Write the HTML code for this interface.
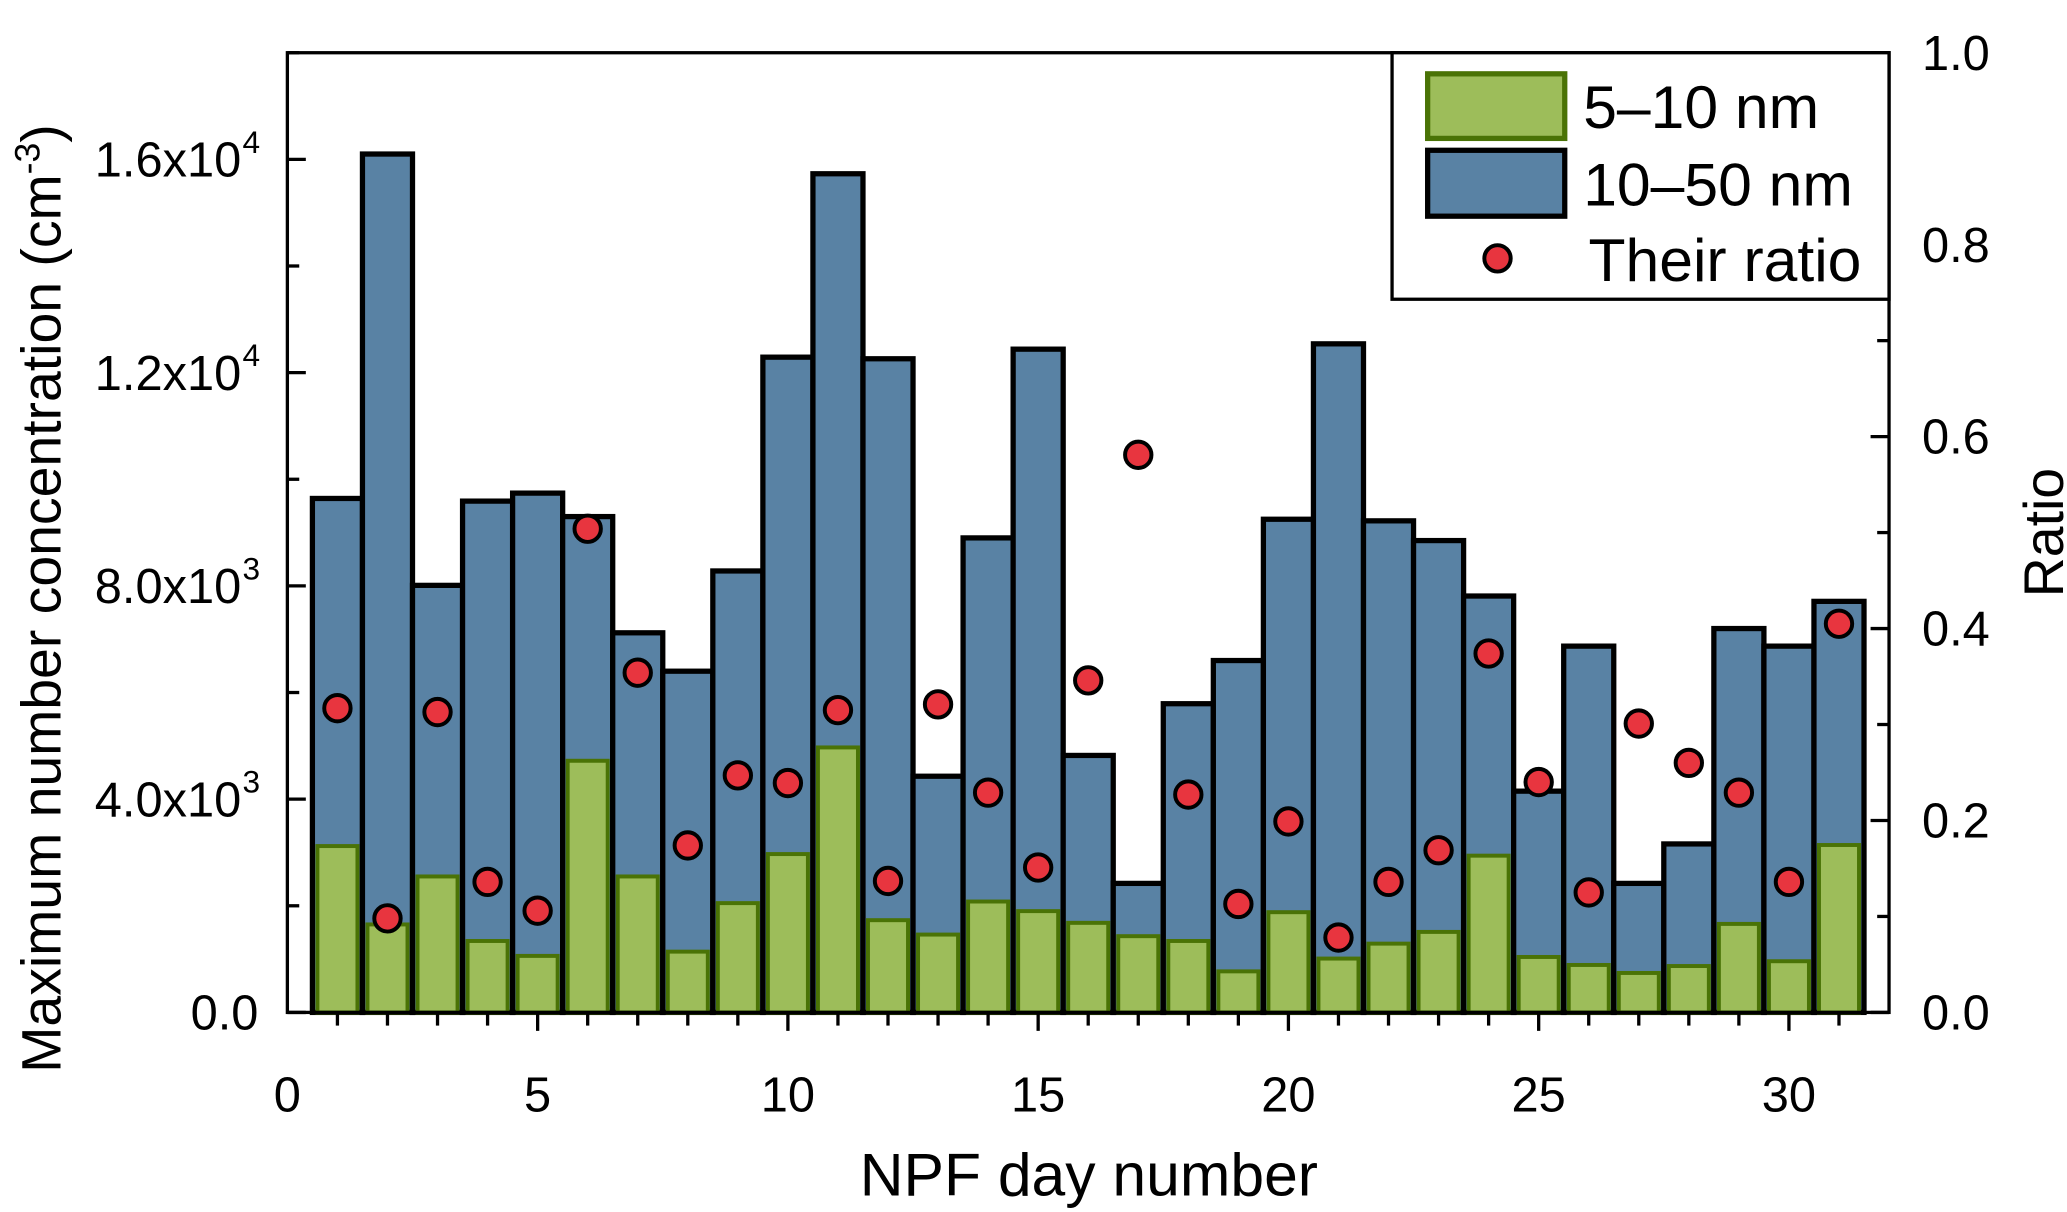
<!DOCTYPE html>
<html><head><meta charset="utf-8"><style>
html,body{margin:0;padding:0;background:#fff;}
body{position:relative;}
svg{display:block;font-family:"Liberation Sans",Arial,sans-serif;}
</style></head><body>
<svg id="chart" width="2067" height="1212" viewBox="0 0 1568 919.4" preserveAspectRatio="none" xmlns="http://www.w3.org/2000/svg"></svg>
<script>
const days = [1,2,3,4,5,6,7,8,9,10,11,12,13,14,15,16,17,18,19,20,21,22,23,24,25,26,27,28,29,30,31];
const conc10to50 = [9640,16100,8010,9590,9740,9300,7120,6400,8280,12290,15730,12260,4430,8900,12440,4820,2420,5790,6600,9250,12540,9220,8850,7810,4150,6870,2420,3160,7200,6870,7710];
const conc5to10 = [3120,1650,2550,1340,1060,4720,2550,1140,2050,2970,4970,1730,1460,2080,1900,1680,1430,1340,770,1880,1010,1290,1510,2940,1040,890,740,870,1660,960,3140];
const ratio = [0.317,0.098,0.313,0.136,0.106,0.504,0.354,0.174,0.247,0.239,0.315,0.137,0.321,0.229,0.151,0.346,0.581,0.227,0.113,0.199,0.078,0.136,0.169,0.374,0.240,0.125,0.301,0.260,0.229,0.136,0.405];
const xTicks = [0,5,10,15,20,25,30];
const yTicks = [0,4000,8000,12000,16000];
const yTickLabels = ["0.0","4.0x10","8.0x10","1.2x10","1.6x10"];
const yTickExp = ["","3","3","4","4"];
const rTicks = [0,0.2,0.4,0.6,0.8,1.0];
const rTickLabels = ["0.0","0.2","0.4","0.6","0.8","1.0"];

const L=218,R=1433,T=40,B=768;
const X=v=>L+(v/32)*(R-L);
const Y=v=>B-(v/18000)*(B-T);
const YR=v=>B-v*(B-T);
const svg=document.getElementById('chart');
const NS='http://www.w3.org/2000/svg';
function mk(tag,attrs,parent){const e=document.createElementNS(NS,tag);for(const k in attrs)e.setAttribute(k,attrs[k]);(parent||svg).appendChild(e);return e;}

const gB=mk('g',{});


days.forEach((d,i)=>{
  const r=mk('rect',{x:X(d-0.5),y:Y(conc10to50[i]),width:X(1)-X(0),height:B-Y(conc10to50[i]),fill:'#5982a4',stroke:'#000','stroke-width':4},gB);
  
  
});
const gG=mk('g',{});


days.forEach((d,i)=>{
  const r=mk('rect',{x:X(d-0.4),y:Y(conc5to10[i]),width:X(0.8)-X(0),height:B-Y(conc5to10[i]),fill:'#9dbd5a',stroke:'#4a7306','stroke-width':3},gG);
  
  
});
const gR=mk('g',{});


days.forEach((d,i)=>{
  const c=mk('circle',{cx:X(d),cy:YR(ratio[i]),r:10,fill:'#e8353f',stroke:'#000','stroke-width':3},gR);
  
  
});

const fr=mk('rect',{x:L,y:T,width:R-L,height:B-T,fill:'none',stroke:'#000','stroke-width':2.5});



for(let v=1;v<=31;v++){mk('line',{x1:X(v),x2:X(v),y1:B,y2:B+(v%5===0?14:10),stroke:'#000','stroke-width':2.5});}
const gx=mk('g',{});


xTicks.forEach(v=>{const t=mk('text',{x:X(v),y:B+75,'text-anchor':'middle','font-size':37},gx);t.textContent=v;});
for(let v=0;v<=18000;v+=2000){mk('line',{x1:L,x2:L+(v%4000===0?14:9),y1:Y(v),y2:Y(v),stroke:'#000','stroke-width':2.5});}
const gy=mk('g',{});


yTicks.forEach((v,i)=>{
  const t=mk('text',{x:yTickExp[i]?183:196,y:Y(v)+13,'text-anchor':'end','font-size':37},gy);
  t.textContent=yTickLabels[i];
  if(yTickExp[i]){const s=mk('text',{x:184,y:Y(v)-5,'font-size':24},gy);s.textContent=yTickExp[i];}
});
for(let k=0;k<=10;k++){const v=k/10;mk('line',{x1:R,x2:R-(k%2===0?14:9),y1:YR(v),y2:YR(v),stroke:'#000','stroke-width':2.5});}
const gr=mk('g',{});


rTicks.forEach((v,i)=>{const t=mk('text',{x:1458,y:YR(v)+13,'font-size':37},gr);t.textContent=rTickLabels[i];});
</script>
<svg style="position:absolute;left:0;top:0" width="2067" height="1212" viewBox="0 0 1568 919.4" preserveAspectRatio="none" xmlns="http://www.w3.org/2000/svg" font-family="Liberation Sans, Arial, sans-serif">
<text x="826" y="907" text-anchor="middle" font-size="46">NPF day number</text>
<text transform="translate(46,454) rotate(-90)" text-anchor="middle" font-size="42">Maximum number concentration (cm<tspan font-size="27" dy="-16">-3</tspan><tspan dy="16">)</tspan></text>
<text transform="translate(1565,404) rotate(-90)" text-anchor="middle" font-size="42">Ratio</text>
<g>
<rect x="1056" y="40" width="377" height="187" fill="#fff" stroke="#000" stroke-width="2.5"/>
<rect x="1083" y="56" width="104" height="49" fill="#9dbd5a" stroke="#4a7306" stroke-width="4"/>
<text x="1201" y="97" font-size="46">5–10 nm</text>
<rect x="1083" y="114" width="104" height="50" fill="#5982a4" stroke="#000" stroke-width="4"/>
<text x="1201" y="156" font-size="46">10–50 nm</text>
<circle cx="1136" cy="196" r="10" fill="#e8353f" stroke="#000" stroke-width="3"/>
<text x="1205" y="213" font-size="46">Their ratio</text>
</g>
</svg>
</body></html>
